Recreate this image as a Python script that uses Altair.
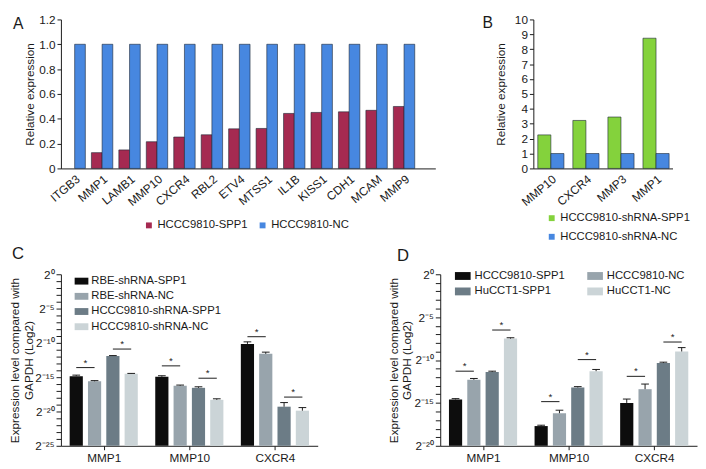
import altair as alt
import pandas as pd

FONT = "Liberation Sans"
INK = "#1a1a1a"

panel_labels = ["A", "B", "C", "D"]

# ---------------- Panel A ----------------
a_genes = ["ITGB3", "MMP1", "LAMB1", "MMP10", "CXCR4", "RBL2", "ETV4",
           "MTSS1", "IL1B", "KISS1", "CDH1", "MCAM", "MMP9"]
a_series = ["HCCC9810-SPP1", "HCCC9810-NC"]
a_spp1 = [0.0, 0.127, 0.149, 0.215, 0.253, 0.271, 0.319, 0.322, 0.443,
          0.451, 0.456, 0.468, 0.499]
a_nc = [1.0, 1.0, 1.0, 1.0, 1.0, 1.0, 1.0, 1.0, 1.0, 1.0, 1.0, 1.0, 1.0]
a_colors = ["#a52a51", "#4787e0"]
a_yticks = [0, 0.2, 0.4, 0.6, 0.8, 1.0, 1.2]

# ---------------- Panel B ----------------
b_genes = ["MMP10", "CXCR4", "MMP3", "MMP1"]
b_series = ["HCCC9810-shRNA-SPP1", "HCCC9810-shRNA-NC"]
b_spp1 = [2.25, 3.22, 3.45, 8.74]
b_nc = [1.0, 1.0, 1.0, 1.0]
b_colors = ["#84d23c", "#4787e0"]
b_yticks = [0, 1, 2, 3, 4, 5, 6, 7, 8, 9, 10]

# ---------------- Panel C (log2 exponents) ----------------
c_genes = ["MMP1", "MMP10", "CXCR4"]
c_series = ["RBE-shRNA-SPP1", "RBE-shRNA-NC", "HCCC9810-shRNA-SPP1", "HCCC9810-shRNA-NC"]
c_rbe_spp1 = [-14.85, -14.94, -10.15]
c_rbe_nc = [-15.6, -16.25, -11.6]
c_hc_spp1 = [-11.9, -16.55, -19.3]
c_hc_nc = [-14.5, -18.3, -19.88]
c_rbe_spp1_err = [0.15, 0.15, 0.3]
c_rbe_nc_err = [0.1, 0.1, 0.25]
c_hc_spp1_err = [0.05, 0.15, 0.6]
c_hc_nc_err = [0.05, 0.15, 0.45]
c_sig_pair1 = [-13.6, -13.35, -9.1]
c_sig_pair2 = [-10.9, -15.15, -17.9]

# ---------------- Panel D (log2 exponents) ----------------
d_genes = ["MMP1", "MMP10", "CXCR4"]
d_series = ["HCCC9810-SPP1", "HCCC9810-NC", "HuCCT1-SPP1", "HuCCT1-NC"]
d_hc_spp1 = [-14.6, -17.7, -15.0]
d_hc_nc = [-12.3, -16.2, -13.4]
d_hu_spp1 = [-11.4, -13.2, -10.35]
d_hu_nc = [-7.5, -11.3, -9.0]
d_hc_spp1_err = [0.1, 0.1, 0.45]
d_hc_nc_err = [0.15, 0.35, 0.6]
d_hu_spp1_err = [0.1, 0.1, 0.1]
d_hu_nc_err = [0.1, 0.2, 0.45]
d_sig_pair1 = [-11.3, -14.85, -11.9]
d_sig_pair2 = [-6.5, -9.95, -7.9]

gray_colors = ["#0d0d0d", "#98a4ac", "#6c7c86", "#cbd4d7"]

SUP = str.maketrans("-0123456789", "⁻⁰¹²³⁴⁵⁶⁷⁸⁹")
RECT = "M-1,-0.5H1V0.5H-1Z"


def names_expr(names):
    return "[" + ",".join("'" + n + "'" for n in names) + "][datum.value]"


def panel_label(text, x, y, size):
    return alt.Chart(pd.DataFrame({"t": [text]})).mark_text(
        align="left", baseline="top", fontSize=size, font=FONT, color=INK
    ).encode(text="t:N", x=alt.value(x), y=alt.value(y))


def paired_panel(genes, series, first, second, colors, bar_w, xdom, ymax, yvals,
                 yfmt, width, height, legend, label, label_xy, title_pad):
    rows = []
    for si, vals in enumerate([first, second]):
        for gi, g in enumerate(genes):
            rows.append(dict(gene=g, gi=gi, si=si, series=series[si], value=vals[gi]))
    df = pd.DataFrame(rows)
    bars = alt.Chart(df).transform_filter("datum.value > 0").transform_calculate(
        x1=f"datum.gi + (datum.si - 1) * {bar_w}",
        x2=f"datum.gi + datum.si * {bar_w}",
    ).mark_bar(stroke="#1c2533", strokeWidth=0.6).encode(
        x=alt.X("x1:Q", scale=alt.Scale(domain=xdom, nice=False, zero=False),
                axis=alt.Axis(values=list(range(len(genes))), labelExpr=names_expr(genes),
                              title=None, ticks=False, tickSize=0, labelAngle=320,
                              labelAlign="right", labelBaseline="top", labelPadding=5,
                              labelOverlap=False, grid=False)),
        x2="x2:Q",
        y=alt.Y("value:Q", scale=alt.Scale(domain=[0, ymax], nice=False),
                axis=alt.Axis(values=yvals, labelExpr=yfmt, title="Relative expression",
                              tickSize=4, titlePadding=title_pad, labelOverlap=False,
                              grid=False)),
        y2=alt.datum(0),
        color=alt.Color("series:N", scale=alt.Scale(domain=series, range=colors), legend=legend),
    )
    lab = panel_label(label, label_xy[0], label_xy[1], 16)
    return alt.layer(bars, lab).properties(width=width, height=height)


STEP = 0.214
HALF = 0.077
CAP = 0.045


def log_panel(genes, series, vals, errs, sig1, sig2, color_map, legend_order, ymin,
              width, height, legend, title_x, label, label_xy):
    rows = []
    for si, s in enumerate(series):
        for gi, g in enumerate(genes):
            rows.append(dict(gene=g, gi=gi, si=si, series=s, value=vals[si][gi], err=errs[si][gi]))
    df = pd.DataFrame(rows)
    srows = []
    for gi, g in enumerate(genes):
        for pair, ys in enumerate([sig1, sig2]):
            srows.append(dict(gene=g, gi=gi, pair=pair, y=ys[gi], star="*"))
    sdf = pd.DataFrame(srows)

    xscale = alt.Scale(domain=[-0.5, len(genes) - 0.5], nice=False, zero=False)
    yscale = alt.Scale(domain=[ymin, 0], nice=False, zero=False)
    major = [v for v in range(ymin, 1) if v % 5 == 0]
    yexpr = " : ".join(f"datum.value === {v} ? '2{str(v).translate(SUP)}'" for v in major) + " : ''"
    xaxis = alt.Axis(values=list(range(len(genes))), labelExpr=names_expr(genes), title=None,
                     tickSize=4, labelAngle=0, labelPadding=3, labelOverlap=False, grid=False)
    yaxis = alt.Axis(values=list(range(ymin, 1)), labelExpr=yexpr, tickSize=5,
                     labelOverlap=False, labelFontSize=12,
                     title=["Expression level compared with", "GAPDH (Log2)"],
                     titleX=title_x, titleY=height / 2, titleAngle=270,
                     titleBaseline="bottom", titleAlign="center", titleLineHeight=14,
                     labelPadding=2, grid=False, domain=True)

    base = alt.Chart(df).transform_calculate(
        xc=f"datum.gi + (datum.si - 1.5) * {STEP}"
    ).transform_calculate(
        xa=f"datum.xc - {HALF}", xb=f"datum.xc + {HALF}",
        ca=f"datum.xc - {CAP}", cb=f"datum.xc + {CAP}",
        top="datum.value + datum.err",
    )
    bars = base.mark_bar().encode(
        x=alt.X("xa:Q", scale=xscale, axis=xaxis),
        x2="xb:Q",
        y=alt.Y("value:Q", scale=yscale, axis=yaxis),
        y2=alt.datum(ymin),
        color=alt.Color("series:N",
                        scale=alt.Scale(domain=legend_order,
                                        range=[color_map[s] for s in legend_order]),
                        legend=legend),
    )
    stems = base.mark_rule(color=INK, strokeWidth=1).encode(
        x=alt.X("xc:Q", scale=xscale, axis=None),
        y=alt.Y("value:Q", scale=yscale, axis=None), y2="top:Q")
    caps = base.mark_rule(color=INK, strokeWidth=1).encode(
        x=alt.X("ca:Q", scale=xscale, axis=None), x2="cb:Q",
        y=alt.Y("top:Q", scale=yscale, axis=None))
    sbase = alt.Chart(sdf).transform_calculate(
        sa=f"datum.gi + (2 * datum.pair - 1.5) * {STEP}"
    ).transform_calculate(sb=f"datum.sa + {STEP}", sm=f"datum.sa + {STEP / 2}")
    lines = sbase.mark_rule(color=INK, strokeWidth=1).encode(
        x=alt.X("sa:Q", scale=xscale, axis=None), x2="sb:Q",
        y=alt.Y("y:Q", scale=yscale, axis=None))
    stars = sbase.mark_text(fontSize=10, baseline="alphabetic", dy=-2, color=INK, font=FONT).encode(
        x=alt.X("sm:Q", scale=xscale, axis=None),
        y=alt.Y("y:Q", scale=yscale, axis=None), text="star:N")
    lab = panel_label(label, label_xy[0], label_xy[1], 17)
    return alt.layer(bars, stems, caps, lines, stars, lab).resolve_axis(
        x="independent", y="independent").properties(width=width, height=height)


# ---------------- build panels ----------------
chart_a = paired_panel(
    a_genes, a_series, a_spp1, a_nc, a_colors, 0.39, [-0.5, 13.14], 1.2, a_yticks,
    "datum.value == 0 ? '0' : format(datum.value, '.1f')", 382, 152,
    alt.Legend(orient="none", legendX=84, legendY=204, direction="horizontal", title=None,
               symbolType="square", symbolSize=36, symbolStrokeWidth=0, columnPadding=9,
               labelOffset=3),
    panel_labels[0], (-49, -3), 2)

chart_b = paired_panel(
    b_genes, b_series, b_spp1, b_nc, b_colors, 0.373, [-0.5, 3.47], 10, b_yticks,
    "format(datum.value, 'd')", 142, 152,
    alt.Legend(orient="none", legendX=13, legendY=197, direction="vertical", title=None,
               symbolType="square", symbolSize=36, symbolStrokeWidth=0, rowPadding=6,
               labelOffset=3),
    panel_labels[1], (-52, -4), 7)

c_colors = dict(zip(c_series, gray_colors))
chart_c = log_panel(
    c_genes, c_series, [c_rbe_spp1, c_rbe_nc, c_hc_spp1, c_hc_nc],
    [c_rbe_spp1_err, c_rbe_nc_err, c_hc_spp1_err, c_hc_nc_err],
    c_sig_pair1, c_sig_pair2, c_colors, c_series, -25, 262, 175,
    alt.Legend(orient="none", legendX=14, legendY=0, direction="vertical", title=None,
               symbolType=RECT, symbolSize=196, symbolStrokeWidth=0, rowPadding=2.5,
               labelOffset=3),
    -40, panel_labels[2], (-50, -29))

d_colors = dict(zip(d_series, gray_colors))
d_legend_order = [d_series[0], d_series[2], d_series[1], d_series[3]]
chart_d = log_panel(
    d_genes, d_series, [d_hc_spp1, d_hc_nc, d_hu_spp1, d_hu_nc],
    [d_hc_spp1_err, d_hc_nc_err, d_hu_spp1_err, d_hu_nc_err],
    d_sig_pair1, d_sig_pair2, d_colors, d_legend_order, -20, 262, 175,
    alt.Legend(orient="none", legendX=15, legendY=-6.5, columns=2, title=None,
               symbolType=RECT, symbolSize=256, symbolStrokeWidth=0, rowPadding=2,
               columnPadding=22, labelOffset=4),
    -41, panel_labels[3], (-44, -27))

top = alt.hconcat(chart_a, chart_b, spacing=100, bounds="flush").resolve_scale(
    color="independent").resolve_legend(color="independent")
bottom = alt.hconcat(chart_c, chart_d, spacing=125, bounds="flush").resolve_scale(
    color="independent").resolve_legend(color="independent")

chart = alt.vconcat(top, bottom, spacing=0).resolve_scale(
    color="independent").resolve_legend(color="independent").properties(
    padding=0, background="white"
).configure(font=FONT).configure_axis(
    labelFont=FONT, titleFont=FONT, labelFontSize=12, titleFontSize=12,
    titleFontWeight="normal", labelColor=INK, titleColor=INK,
    domainColor=INK, tickColor=INK, domainWidth=1, tickWidth=1, grid=False
).configure_legend(
    labelFont=FONT, labelFontSize=11.5, labelColor=INK, padding=0, labelLimit=300
).configure_view(stroke="transparent")

chart.save("out.html", embed_options={"renderer": "svg", "actions": False})
